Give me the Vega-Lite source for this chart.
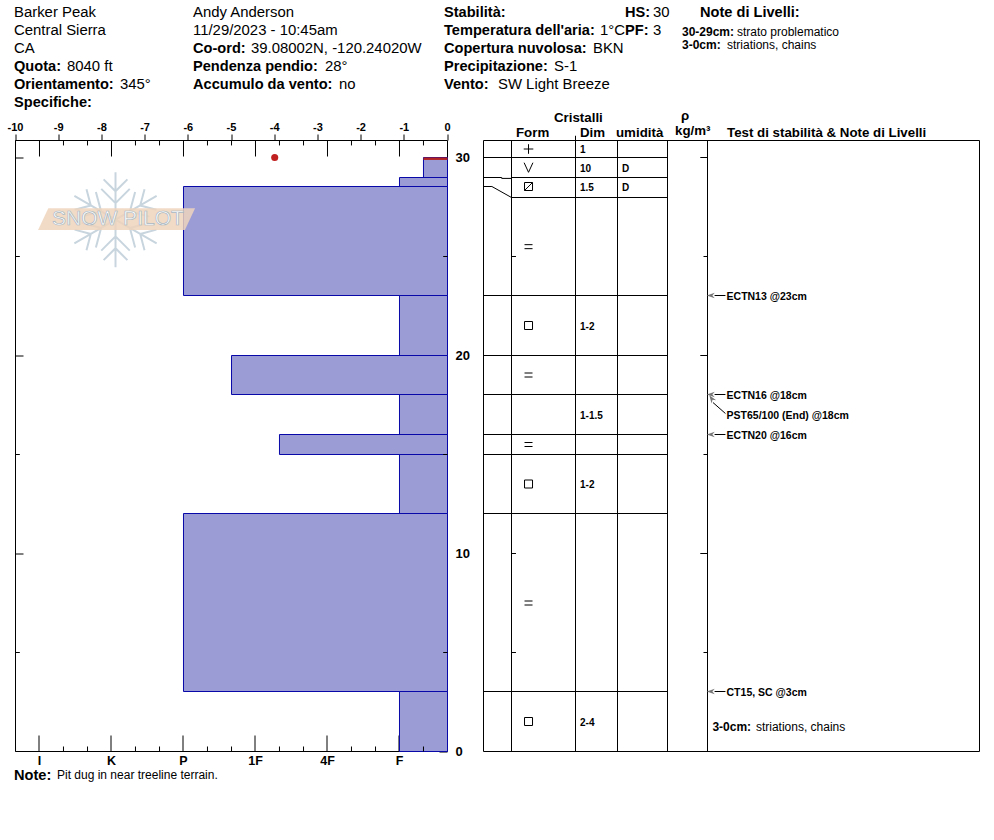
{
"$schema":"https://vega.github.io/schema/vega-lite/v6.json",
"autosize":{"type":"fit","contains":"padding"},"width":994,"height":840,"padding":0,"background":"white",
"config":{"view":{"stroke":null},"font":"Liberation Sans","axis":{"grid":false,"title":null,"domainColor":"black","tickColor":"black","labelColor":"black","translate":0,"labelFontWeight":"bold","labelFont":"Liberation Sans"}},
"datasets":{
"layers":[
{"top":30.86,"bottom":30,"mid":30.43,"form":"+","dim":"1","moisture":""},
{"top":30,"bottom":29,"mid":29.5,"form":"V","dim":"10","moisture":"D"},
{"top":29,"bottom":28,"mid":28.5,"form":"box-slash","dim":"1.5","moisture":"D"},
{"top":28,"bottom":23,"mid":25.5,"form":"=","dim":"","moisture":""},
{"top":23,"bottom":20,"mid":21.5,"form":"box","dim":"1-2","moisture":""},
{"top":20,"bottom":18,"mid":19,"form":"=","dim":"","moisture":""},
{"top":18,"bottom":16,"mid":17,"form":"","dim":"1-1.5","moisture":""},
{"top":16,"bottom":15,"mid":15.5,"form":"=","dim":"","moisture":""},
{"top":15,"bottom":12,"mid":13.5,"form":"box","dim":"1-2","moisture":""},
{"top":12,"bottom":3,"mid":7.5,"form":"=","dim":"","moisture":""},
{"top":3,"bottom":0,"mid":1.5,"form":"box","dim":"2-4","moisture":""}],
"bars":[
{"top":30,"bottom":29,"hardness":0.667},
{"top":29,"bottom":28.5,"hardness":1},
{"top":28.5,"bottom":23,"hardness":4},
{"top":23,"bottom":20,"hardness":1},
{"top":20,"bottom":18,"hardness":3.333},
{"top":18,"bottom":16,"hardness":1},
{"top":16,"bottom":15,"hardness":2.667},
{"top":15,"bottom":12,"hardness":1},
{"top":12,"bottom":3,"hardness":4},
{"top":3,"bottom":0,"hardness":1}],
"hardTicks":[
{"h":6.333,"k":"minor"},{"h":6,"k":"major"},{"h":5.667,"k":"minor"},{"h":5.333,"k":"minor"},{"h":5,"k":"major"},{"h":4.667,"k":"minor"},{"h":4.333,"k":"minor"},{"h":4,"k":"major"},{"h":3.667,"k":"minor"},{"h":3.333,"k":"minor"},{"h":3,"k":"major"},{"h":2.667,"k":"minor"},{"h":2.333,"k":"minor"},{"h":2,"k":"major"},{"h":1.667,"k":"minor"},{"h":1.333,"k":"minor"},{"h":1,"k":"major"},{"h":0.667,"k":"minor"}],
"connectors":[
{"id":"a","col":0,"depth":30},{"id":"a","col":1,"depth":30},
{"id":"b","col":0,"depth":29},{"id":"b","col":0.65,"depth":29},{"id":"b","col":0.65,"depth":28.95},{"id":"b","col":1,"depth":28.95},
{"id":"c","col":0,"depth":28.5},{"id":"c","col":0.3,"depth":28.5},{"id":"c","col":1,"depth":28},
{"id":"d","col":0,"depth":23},{"id":"d","col":1,"depth":23},
{"id":"e","col":0,"depth":20},{"id":"e","col":1,"depth":20},
{"id":"f","col":0,"depth":18},{"id":"f","col":1,"depth":18},
{"id":"g","col":0,"depth":16},{"id":"g","col":1,"depth":16},
{"id":"h","col":0,"depth":15},{"id":"h","col":1,"depth":15},
{"id":"i","col":0,"depth":12},{"id":"i","col":1,"depth":12},
{"id":"j","col":0,"depth":3},{"id":"j","col":1,"depth":3}],
"tests":[
{"test":"ECTN13 @23cm","depth":23,"labelDepth":23,"flat":true},
{"test":"ECTN16 @18cm","depth":18,"labelDepth":18,"flat":true},
{"test":"PST65/100 (End) @18cm","depth":18,"labelDepth":17,"flat":false},
{"test":"ECTN20 @16cm","depth":16,"labelDepth":16,"flat":true},
{"test":"CT15, SC @3cm","depth":3,"labelDepth":3,"flat":true}],
"texts":[
{"slot":1,"line":1,"t":"Barker Peak","k":"value"},
{"slot":1,"line":2,"t":"Central Sierra","k":"value"},
{"slot":1,"line":3,"t":"CA","k":"value"},
{"slot":1,"line":4,"t":"Quota:","k":"label"},{"slot":3,"line":4,"t":"8040 ft","k":"value"},
{"slot":1,"line":5,"t":"Orientamento:","k":"label"},{"slot":4,"line":5,"t":"345°","k":"value"},
{"slot":1,"line":6,"t":"Specifiche:","k":"label"},
{"slot":5,"line":1,"t":"Andy Anderson","k":"value"},
{"slot":5,"line":2,"t":"11/29/2023 - 10:45am","k":"value"},
{"slot":5,"line":3,"t":"Co-ord:","k":"label"},{"slot":6,"line":3,"t":"39.08002N, -120.24020W","k":"value"},
{"slot":5,"line":4,"t":"Pendenza pendio:","k":"label"},{"slot":7,"line":4,"t":"28°","k":"value"},
{"slot":5,"line":5,"t":"Accumulo da vento:","k":"label"},{"slot":8,"line":5,"t":"no","k":"value"},
{"slot":9,"line":1,"t":"Stabilità:","k":"label"},
{"slot":9,"line":2,"t":"Temperatura dell'aria:","k":"label"},{"slot":15,"line":2,"t":"1°C","k":"value"},
{"slot":9,"line":3,"t":"Copertura nuvolosa:","k":"label"},{"slot":14,"line":3,"t":"BKN","k":"value"},
{"slot":9,"line":4,"t":"Precipitazione:","k":"label"},{"slot":12,"line":4,"t":"S-1","k":"value"},
{"slot":9,"line":5,"t":"Vento:","k":"label"},{"slot":10,"line":5,"t":"SW Light Breeze","k":"value"},
{"slot":17,"line":1,"t":"HS:","k":"label"},{"slot":18,"line":1,"t":"30","k":"value"},
{"slot":17,"line":2,"t":"PF:","k":"label"},{"slot":18,"line":2,"t":"3","k":"value"},
{"slot":22,"line":1,"t":"Note di Livelli:","k":"label"},
{"slot":21,"line":2.06,"t":"30-29cm:","k":"smallLabel"},{"slot":24,"line":2.06,"t":"strato problematico","k":"smallValue"},
{"slot":21,"line":2.78,"t":"3-0cm:","k":"smallLabel"},{"slot":23,"line":2.78,"t":"striations, chains","k":"smallValue"},
{"slot":12,"line":6.83,"t":"Cristalli","k":"head"},
{"slot":11,"line":7.67,"t":"Form","k":"head"},
{"slot":13,"line":7.67,"t":"Dim","k":"head"},
{"slot":16,"line":7.67,"t":"umidità","k":"head"},
{"slot":20,"line":6.72,"t":"ρ","k":"head"},
{"slot":19,"line":7.56,"t":"kg/m³","k":"head"},
{"slot":23,"line":7.67,"t":"Test di stabilità & Note di Livelli","k":"head"},
{"slot":1,"line":43.4,"t":"Note:","k":"label"},{"slot":2,"line":43.33,"t":"Pit dug in near treeline terrain.","k":"smallValue"}]
},
"resolve":{"scale":{"x":"independent","y":"independent"}},
"layer":[
{"layer":[
{"data":{"name":"bars"},"mark":{"type":"rect","fill":"#9b9bd6","stroke":"#0808a8","strokeWidth":1},
"encoding":{
"x":{"field":"hardness","type":"quantitative","scale":{"domain":[0.3333,6.3333],"range":[447.5,15.5],"nice":false,"zero":false},
"axis":{"orient":"bottom","offset":-88.5,"values":[1,2,3,4,5,6],"tickSize":-16,"labelExpr":"{'1':'F','2':'4F','3':'1F','4':'P','5':'K','6':'I'}[datum.value]","labelFontSize":12.5,"labelPadding":19,"labelFlush":false,"labelOverlap":false}},
"x2":{"datum":0.3333},
"y":{"field":"top","type":"quantitative","scale":{"domain":[0,3,5,10,12,15,16,18,20,23,25,28,28.5,29,30,30.86],"range":[751.5,691.5,652.5,553.5,513.5,454.5,434.5,394.5,355.5,295.5,256.5,197.5,186.5,177.5,157.5,140.5],"nice":false,"zero":false},
"axis":{"orient":"right","offset":-546.5,"values":[0,10,20,30],"tickSize":-8,"labelFontSize":13,"labelPadding":16,"labelOverlap":false}},
"y2":{"field":"bottom"}}},
{"data":{"values":[{"depth":29.94,"h1":0.667,"note":"strato problematico"}]},"mark":{"type":"rule","stroke":"#b22222","strokeWidth":2.5},
"encoding":{"y":{"field":"depth","type":"quantitative"},"x":{"field":"h1","type":"quantitative"},"x2":{"datum":0.3333}}},
{"data":{"name":"hardTicks"},"transform":[{"filter":"datum.k==='minor'"}],"mark":{"type":"rule","stroke":"black"},
"encoding":{"x":{"field":"h","type":"quantitative"},"y":{"datum":30.86},"y2":{"datum":30.61}}},
{"data":{"name":"hardTicks"},"transform":[{"filter":"datum.k==='major'"}],"mark":{"type":"rule","stroke":"black"},
"encoding":{"x":{"field":"h","type":"quantitative"},"y":{"datum":30.86},"y2":{"datum":30.05}}},
{"data":{"name":"hardTicks"},"transform":[{"filter":"datum.k==='minor'"}],"mark":{"type":"rule","stroke":"black"},
"encoding":{"x":{"field":"h","type":"quantitative"},"y":{"datum":0},"y2":{"datum":0.25}}}
]},
{"layer":[
{"data":{"values":[{"depth":30,"temp":-4}]},"mark":{"type":"point","filled":true,"fill":"#c02020","size":50,"opacity":1,"shape":"circle"},
"encoding":{
"x":{"field":"temp","type":"quantitative","scale":{"domain":[-10,0],"range":[15.5,447.5],"nice":false,"zero":false},
"axis":{"orient":"top","offset":-140.5,"values":[-10,-9,-8,-7,-6,-5,-4,-3,-2,-1,0],"tickSize":6,"labelFontSize":11,"labelPadding":2,"labelFlush":false,"labelOverlap":false,"labelExpr":"''+datum.value"}},
"y":{"field":"depth","type":"quantitative","scale":{"domain":[0,3,5,10,12,15,16,18,20,23,25,28,28.5,29,30,30.86],"range":[751.5,691.5,652.5,553.5,513.5,454.5,434.5,394.5,355.5,295.5,256.5,197.5,186.5,177.5,157.5,140.5],"nice":false,"zero":false},
"axis":{"orient":"left","offset":-15.5,"values":[10,20,30],"tickSize":-8,"labels":false}}}},
{"data":{"values":[{"depth":5},{"depth":15},{"depth":25}]},"mark":{"type":"rule","stroke":"black"},
"encoding":{"y":{"field":"depth","type":"quantitative"},"x":{"datum":-10},"x2":{"datum":-9.9}}},
{"data":{"values":[{"depth":5},{"depth":15},{"depth":25}]},"mark":{"type":"rule","stroke":"black"},
"encoding":{"y":{"field":"depth","type":"quantitative"},"x":{"datum":0},"x2":{"datum":-0.1}}},
{"data":{"values":[{"temp":-7.685,"depth":26.87}]},"mark":{"type":"point","filled":false,"stroke":"#c8d5de","strokeWidth":2,"opacity":1,"size":9025,"shape":"M 0 -1 L 0 1 M -0.25 -0.85 L 0 -0.6 L 0.25 -0.85 M -0.3 -0.65 L 0 -0.35 L 0.3 -0.65 M -0.25 0.85 L 0 0.6 L 0.25 0.85 M -0.3 0.65 L 0 0.35 L 0.3 0.65 M -0.866 -0.5 L 0.866 0.5 M -0.866 0.5 L 0.866 -0.5 M 0.861 -0.209 L 0.52 -0.3 L 0.611 -0.642 M 0.713 -0.065 L 0.303 -0.175 L 0.413 -0.585 M -0.861 -0.209 L -0.52 -0.3 L -0.611 -0.642 M -0.713 -0.065 L -0.303 -0.175 L -0.413 -0.585 M 0.861 0.209 L 0.52 0.3 L 0.611 0.642 M 0.713 0.065 L 0.303 0.175 L 0.413 0.585 M -0.861 0.209 L -0.52 0.3 L -0.611 0.642 M -0.713 0.065 L -0.303 0.175 L -0.413 0.585"},
"encoding":{"x":{"field":"temp","type":"quantitative"},"y":{"field":"depth","type":"quantitative"}}},
{"data":{"values":[{"temp":-7.66,"depth":26.9}]},"mark":{"type":"point","filled":true,"fill":"#efd3bc","opacity":0.85,"size":24649,"strokeWidth":0,"shape":"M -1 0.14 L -0.87 -0.14 L 1 -0.14 L 0.87 0.14 Z"},
"encoding":{"x":{"field":"temp","type":"quantitative"},"y":{"field":"depth","type":"quantitative"}}},
{"data":{"values":[{"temp":-7.63,"depth":26.9,"name":"SNOW PILOT"}]},"mark":{"type":"text","fontSize":21,"fill":"white","stroke":"#a8b6c0","strokeWidth":0.7,"align":"center","baseline":"middle"},
"encoding":{"x":{"field":"temp","type":"quantitative"},"y":{"field":"depth","type":"quantitative"},"text":{"field":"name"}}}
]},
{"layer":[
{"data":{"values":[{"col":0},{"col":1},{"col":2},{"col":3},{"col":4},{"col":5},{"col":6}]},"mark":{"type":"rule","stroke":"black"},
"encoding":{"x":{"field":"col","type":"quantitative","scale":{"domain":[0,1,2,3,4,5,6],"range":[483.5,511.5,575.5,617.5,667.5,707.5,979.5],"nice":false,"zero":false},"axis":null},
"y":{"datum":0,"scale":{"domain":[0,3,5,10,12,15,16,18,20,23,25,28,28.5,29,30,30.86],"range":[751.5,691.5,652.5,553.5,513.5,454.5,434.5,394.5,355.5,295.5,256.5,197.5,186.5,177.5,157.5,140.5],"nice":false,"zero":false},"axis":null},"y2":{"datum":30.86}}},
{"data":{"values":[{"edge":0},{"edge":30.86}]},"mark":{"type":"rule","stroke":"black"},
"encoding":{"y":{"field":"edge","type":"quantitative"},"x":{"datum":0},"x2":{"datum":6}}},
{"data":{"values":[{"col":2}]},"mark":{"type":"rule","stroke":"black"},
"encoding":{"x":{"field":"col","type":"quantitative"},"y":{"datum":30.86},"y2":{"datum":31.1}}},
{"data":{"name":"layers"},"transform":[{"filter":"datum.bottom>0"}],"mark":{"type":"rule","stroke":"black"},
"encoding":{"y":{"field":"bottom","type":"quantitative"},"x":{"datum":1},"x2":{"datum":4}}},
{"data":{"name":"connectors"},"mark":{"type":"line","stroke":"black","strokeWidth":1,"interpolate":"linear"},
"encoding":{"x":{"field":"col","type":"quantitative"},"y":{"field":"depth","type":"quantitative"},"detail":{"field":"id"},"order":{"field":"col"}}},
{"data":{"name":"layers"},"transform":[{"filter":"datum.form!==''"}],"mark":{"type":"point","filled":false,"stroke":"black","strokeWidth":1,"opacity":1,"size":64},
"encoding":{"x":{"datum":1.266},"y":{"field":"mid","type":"quantitative"},
"shape":{"field":"form","type":"nominal","legend":null,"scale":{"domain":["+","V","box-slash","=","box"],"range":["M -1.2 0 L 1.2 0 M 0 -1.2 L 0 1.2","M -1.1 -1.2 L 0 1.2 L 1.1 -1.2","M -1 -1 L 1 -1 L 1 1 L -1 1 Z M -1 1 L 1 -1","M -1 -0.5 L 1 -0.5 M -1 0.5 L 1 0.5","M -1 -1 L 1 -1 L 1 1 L -1 1 Z"]}}}},
{"data":{"name":"layers"},"mark":{"type":"text","align":"left","baseline":"middle","fontSize":10,"fontWeight":"bold","fill":"black","dy":1},
"encoding":{"x":{"datum":2.107},"y":{"field":"mid","type":"quantitative"},"text":{"field":"dim"}}},
{"data":{"name":"layers"},"mark":{"type":"text","align":"left","baseline":"middle","fontSize":10,"fontWeight":"bold","fill":"black","dy":1},
"encoding":{"x":{"datum":3.09},"y":{"field":"mid","type":"quantitative"},"text":{"field":"moisture"}}},
{"data":{"values":[{"depth":5},{"depth":10},{"depth":25}]},"mark":{"type":"rule","stroke":"black"},
"encoding":{"y":{"field":"depth","type":"quantitative"},"x":{"datum":1},"x2":{"datum":1.07}}},
{"data":{"values":[{"depth":5},{"depth":15},{"depth":25}]},"mark":{"type":"rule","stroke":"black"},
"encoding":{"y":{"field":"depth","type":"quantitative"},"x":{"datum":5},"x2":{"datum":4.9}}},
{"data":{"values":[{"depth":10},{"depth":20},{"depth":30}]},"mark":{"type":"rule","stroke":"black"},
"encoding":{"y":{"field":"depth","type":"quantitative"},"x":{"datum":5},"x2":{"datum":4.82}}},
{"data":{"name":"tests"},"transform":[{"filter":"datum.flat"}],"mark":{"type":"rule","stroke":"black"},
"encoding":{"y":{"field":"depth","type":"quantitative"},"x":{"datum":5.026},"x2":{"datum":5.066}}},
{"data":{"name":"tests"},"transform":[{"filter":"datum.flat"}],"mark":{"type":"point","filled":true,"fill":"#777777","opacity":1,"size":64,"strokeWidth":0,"shape":"M -1 0 L 1 -0.7 L 0.4 0 L 1 0.7 Z"},
"encoding":{"y":{"field":"depth","type":"quantitative"},"x":{"datum":5.012}}},
{"data":{"name":"tests"},"transform":[{"filter":"!datum.flat"}],"mark":{"type":"rule","stroke":"black"},
"encoding":{"y":{"datum":17.6},"y2":{"datum":17.05},"x":{"datum":5.02},"x2":{"datum":5.066}}},
{"data":{"name":"tests"},"transform":[{"filter":"!datum.flat"}],"mark":{"type":"point","filled":true,"fill":"#777777","opacity":1,"size":64,"strokeWidth":0,"angle":55,"shape":"M -1 0 L 1 -0.7 L 0.4 0 L 1 0.7 Z"},
"encoding":{"y":{"datum":17.8},"x":{"datum":5.015}}},
{"data":{"name":"tests"},"mark":{"type":"text","align":"left","baseline":"middle","fontSize":10.5,"fontWeight":"bold","fill":"black","dy":1},
"encoding":{"x":{"datum":5.07},"y":{"field":"labelDepth","type":"quantitative"},"text":{"field":"test"}}},
{"data":{"values":[{"depth":1.24,"label":"3-0cm:","note":"striations, chains"}]},"mark":{"type":"text","align":"left","baseline":"middle","fontSize":12,"fontWeight":"bold","fill":"black"},
"encoding":{"x":{"datum":5.018},"y":{"field":"depth","type":"quantitative"},"text":{"field":"label"}}},
{"data":{"values":[{"depth":1.24,"label":"3-0cm:","note":"striations, chains"}]},"mark":{"type":"text","align":"left","baseline":"middle","fontSize":12,"fill":"black"},
"encoding":{"x":{"datum":5.178},"y":{"field":"depth","type":"quantitative"},"text":{"field":"note"}}}
]},
{"data":{"name":"texts"},"layer":[
{"transform":[{"filter":"datum.k==='label'"}],"mark":{"type":"text","align":"left","baseline":"middle","fontSize":14.6,"fontWeight":"bold","fill":"black"},
"encoding":{"x":{"field":"slot","type":"quantitative","axis":null,"scale":{"domain":[1,2,3,4,5,6,7,8,9,10,11,12,13,14,15,16,17,18,19,20,21,22,23,24],"range":[14,57,67,120,193,251,325,339,444,498,516,554,580,593,600,616,625,653,675,681,682,700,727,737],"nice":false,"zero":false}},
"y":{"field":"line","type":"quantitative","axis":null,"scale":{"domain":[1,6],"range":[13,103],"nice":false,"zero":false}},"text":{"field":"t"}}},
{"transform":[{"filter":"datum.k==='value'"}],"mark":{"type":"text","align":"left","baseline":"middle","fontSize":14.9,"fill":"black"},
"encoding":{"x":{"field":"slot","type":"quantitative"},"y":{"field":"line","type":"quantitative"},"text":{"field":"t"}}},
{"transform":[{"filter":"datum.k==='smallLabel'"}],"mark":{"type":"text","align":"left","baseline":"middle","fontSize":12,"fontWeight":"bold","fill":"black"},
"encoding":{"x":{"field":"slot","type":"quantitative"},"y":{"field":"line","type":"quantitative"},"text":{"field":"t"}}},
{"transform":[{"filter":"datum.k==='head'"}],"mark":{"type":"text","align":"left","baseline":"middle","fontSize":13.3,"fontWeight":"bold","fill":"black"},
"encoding":{"x":{"field":"slot","type":"quantitative"},"y":{"field":"line","type":"quantitative"},"text":{"field":"t"}}},
{"transform":[{"filter":"datum.k==='smallValue'"}],"mark":{"type":"text","align":"left","baseline":"middle","fontSize":12,"fill":"black"},
"encoding":{"x":{"field":"slot","type":"quantitative"},"y":{"field":"line","type":"quantitative"},"text":{"field":"t"}}}
]}
]
}
